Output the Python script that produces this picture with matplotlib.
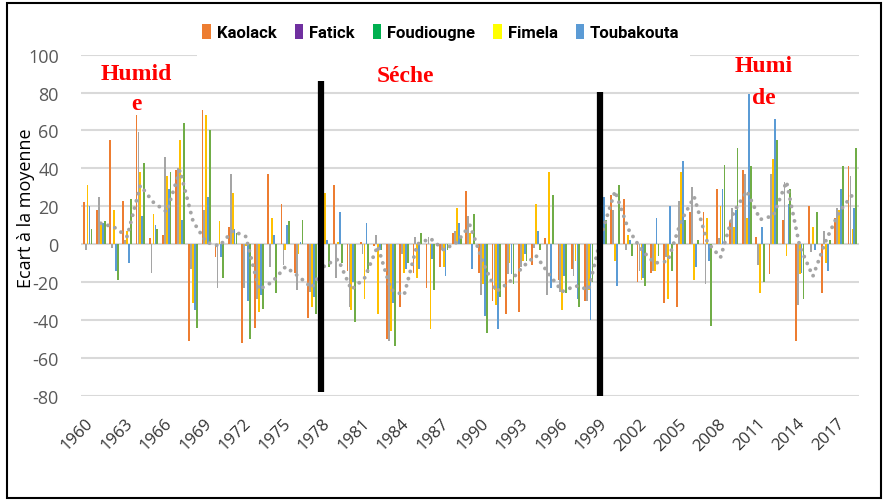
import matplotlib
matplotlib.use("Agg")
import matplotlib.pyplot as plt
import matplotlib.transforms as mtransforms
import numpy as np
from matplotlib.patches import Patch, Rectangle

plt.rcParams["axes.unicode_minus"] = False

years = list(range(1960, 2019))

kaolack = [22, 18, 55, 23, 68, 3, 5, 39, -51, 71, -7, 9, -52, -44, 37, 21, -15, -39, 10, 31,
           -14, 1, -1, -50, -33, -15, -23, -12, 6, 28, -15, -30, -37, -36, -11, 3, -19, -13, -30, 29,
           26, 24, -20, -15, -31, -33, 17, 17, 29, 12, 39, 4, -16, 13, -51, 20, -26, 14, 41]
fatick = [-3, 25, -2, 2, 59, -15, 46, 40, -13, 18, -23, 37, -23, -29, -12, -11, -24, -25, -10, -18,
          -33, -5, 5, -51, -5, 4, 4, -3, 7, 15, -27, -24, -16, -12, -2, -27, -25, -17, -30, 20,
          18, -3, -14, -14, -7, 23, 30, -21, 3, 19, 37, -11, 37, 33, -32, -4, 7, 19, 36]
foudiougne = [31, 11, 18, 7, 38, 16, 36, 55, -31, 68, 12, 27, -1, -36, 14, -3, -5, -33, 27, 1,
              -35, -29, -37, -46, -15, -18, -45, -12, 19, 6, -21, -32, -10, -9, 21, 38, -35, -9, -24, 10,
              -9, 5, -19, -14, -29, 38, -19, 14, 20, 9, 14, -26, 45, -6, -16, 9, -10, 18, 8]
fimela = [20, 11, -14, -10, 15, 10, 29, 13, -35, 25, -7, 8, -30, -27, 5, 10, 1, -28, 2, 17,
          -20, 11, -3, -31, -13, -13, -8, -17, 11, -13, -38, -45, -16, -5, 7, -23, -17, -29, -40, 25,
          -22, 2, -18, 14, 20, 44, -12, -9, 29, 18, 79, 9, 66, 21, -15, -3, -14, 29, 19]
toubakouta = [8, 12, -19, 24, 43, 8, 38, 64, -44, 60, -18, 6, -50, -34, -26, 12, 13, -37, -12, -10,
              -41, -15, -3, -54, -10, 6, -24, -3, 3, 16, -47, -28, -21, -9, -3, 26, -26, -33, -20, 13,
              31, -6, -22, -6, -14, 13, 2, -43, 42, 51, 41, -20, 55, 29, -29, 17, 2, 41, 51]
moyenne_mobile = [np.nan, 11, 9, 4, 31, 22, 17, 39, 12, 1, -1, 7, 4, -24, -20, -12, -17, -23, -11, -8,
                  -24, -18, -1, -24, -27, 0, 3, -3, 1, 10, -10, -25, -20, -12, -6, -16, -25, -22, -24, 6,
                  28, 8, -3, -10, -9, 12, 25, 1, -7, 17, 28, 13, 15, 33, -1, -17, 2, 17, 26]

noms = ["Kaolack", "Fatick", "Foudiougne", "Fimela", "Toubakouta"]
series = [kaolack, fatick, foudiougne, fimela, toubakouta]
bar_colors = ["#ED7D31", "#A5A5A5", "#FFC000", "#5B9BD5", "#70AD47"]
legend_colors = ["#ED7D31", "#7030A0", "#00B050", "#FFFF00", "#5B9BD5"]

sans = ["Open Sans", "DejaVu Sans"]

fig = plt.figure(figsize=(8.84, 5.02), dpi=100)
ax = fig.add_axes([81 / 884, 1 - 396.7 / 502, 778 / 884, (396.7 - 55.7) / 502])

x = np.arange(len(years))
w = 0.135
for k, (vals, col) in enumerate(zip(series, bar_colors)):
    ax.bar(x + (k - 2) * 0.146, vals, width=w, color=col, zorder=2)

ax.plot(x, moyenne_mobile, color="#A5A5A5", lw=2.8, linestyle=(0, (0.01, 1.9)),
        dash_capstyle="round", zorder=3)

# ruptures
ax.plot([17.73, 17.73], [-78, 86], color="black", lw=4.5, zorder=4, solid_capstyle="butt")
ax.plot([38.86, 38.86], [-80, 80.5], color="black", lw=4.5, zorder=4, solid_capstyle="butt")

ax.set_xlim(-0.5, len(years) - 0.5)
ax.set_ylim(-80, 100)
ax.set_yticks(range(-80, 101, 20))
ax.yaxis.grid(True, color="#D9D9D9", lw=1.5, zorder=0)
ax.set_axisbelow(True)
for s in ax.spines.values():
    s.set_visible(False)
ax.tick_params(axis="y", length=0, pad=16, labelsize=13, labelcolor="#595959")
for t in ax.get_yticklabels():
    t.set_family(sans)

ax.set_xticks(x[::3])
ax.set_xticklabels([str(y) for y in years[::3]], rotation=45, ha="right", va="center",
                   rotation_mode="anchor", fontsize=12, color="#333333", family=sans)
ax.tick_params(axis="x", length=0, pad=18)
shift = mtransforms.ScaledTranslation(3 / 100, 0, fig.dpi_scale_trans)
for t in ax.get_xticklabels():
    t.set_transform(t.get_transform() + shift)

fig.text(26 / 884, 1 - 208 / 502, "Ecart à la moyenne", rotation=90, ha="center", va="center",
         fontsize=13, color="black", family=sans)

red = dict(color="red", fontweight="bold", fontsize=17, family=["Liberation Serif", "DejaVu Serif"],
           ha="center", va="center")
fig.text(136 / 884, 1 - 75 / 502, "Humid", **red)
fig.text(136 / 884, 1 - 104 / 502, "e", **red)
fig.text(405 / 884, 1 - 76 / 502, "Séche", **red)
fig.text(764 / 884, 1 - 67 / 502, "Humi", **red)
fig.text(764 / 884, 1 - 99 / 502, "de", **red)

# fond blanc de la légende
fig.patches.append(Rectangle((197 / 884, 1 - 60 / 502), (690 - 197) / 884, 45 / 502,
                             transform=fig.transFigure, facecolor="white", edgecolor="none", zorder=1))
handles = [Patch(facecolor=c, edgecolor="none") for c in legend_colors]
leg = fig.legend(handles, noms, loc="center", bbox_to_anchor=(441 / 884, 1 - 33 / 502), ncol=5,
                 frameon=False, handlelength=0.5, handleheight=1.0, handletextpad=0.35,
                 columnspacing=1.1, prop={"family": ["Roboto", "DejaVu Sans"], "weight": "bold", "size": 12})

# cadre
fig.patches.append(Rectangle((7 / 884, 3 / 502), 874 / 884, 495 / 502, transform=fig.transFigure,
                             facecolor="none", edgecolor="black", lw=1.5, zorder=10))

fig.savefig("out.png", dpi=100)
